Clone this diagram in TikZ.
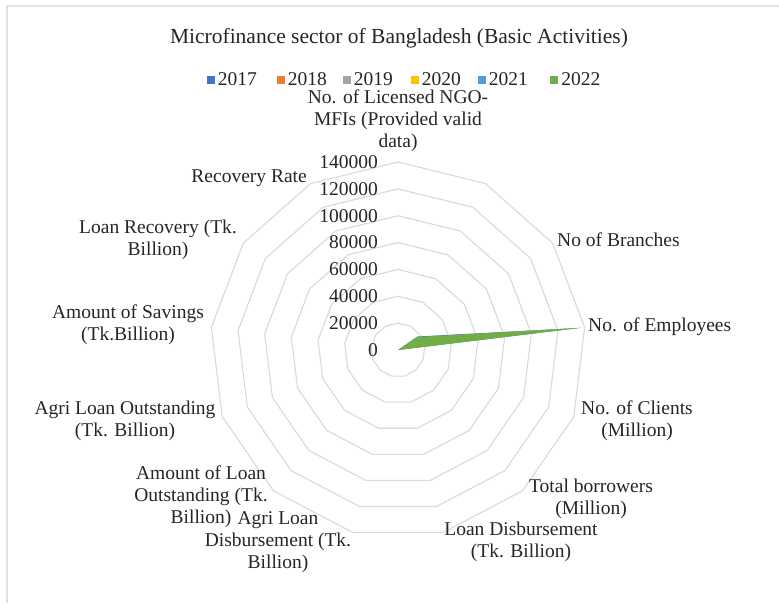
\documentclass[tikz,border=0pt]{standalone}
\usepackage{fontspec}
\setmainfont{Liberation Serif}
\definecolor{ringgray}{HTML}{D9D9D9}
\definecolor{framegray}{HTML}{E2E2E2}
\definecolor{cA}{HTML}{4472C4}
\definecolor{cB}{HTML}{ED7D31}
\definecolor{cC}{HTML}{A5A5A5}
\definecolor{cD}{HTML}{FFC000}
\definecolor{cE}{HTML}{5B9BD5}
\definecolor{cF}{HTML}{70AD47}
\newcommand{\cx}{398}
\newcommand{\cy}{350}
\newcommand{\Rmax}{188}
\begin{document}
\begin{tikzpicture}[x=1pt,y=-1pt,
  ring/.style={draw=ringgray,line width=1.1pt,line join=round},
  lbl/.style={inner sep=0pt,align=center,font=\fontsize{19.5}{22}\selectfont,text=black!85},
  tick/.style={inner sep=0pt,anchor=east,font=\fontsize{19.5}{22}\selectfont,text=black!85},
  legsq/.style={inner sep=0pt,minimum size=8pt,fill=#1},
  legtx/.style={inner sep=0pt,anchor=west,font=\fontsize{19.5}{22}\selectfont,text=black!85}]
\fill[white] (0,0) rectangle (779,603);
\useasboundingbox (0,0) rectangle (779,603);
\draw[framegray,line width=1.5pt] (7,603) -- (7,6) -- (779,6);

% title
\node[inner sep=0pt,font=\fontsize{21.5}{24}\selectfont,text=black!85] (title) at (399,38) {Microfinance sector of Bangladesh (Basic Activities)};

% legend
\foreach \c/\yr/\x in {cA/2017/210.5,cB/2018/280.5,cC/2019/346.5,cD/2020/414.5,cE/2021/481.5,cF/2022/554}{
  \node[legsq=\c] (sq\yr) at (\x,79.5) {};
  \node[legtx] (lg\yr) at ([xshift=3pt]sq\yr.east) {\yr};
}

% rings
\foreach \k in {1,...,7}{
  \pgfmathsetmacro{\R}{\k*\Rmax/7}
  \draw[ring] ({\cx},{\cy-\R}) \foreach \i in {1,...,12}{ -- ({\cx+\R*sin(\i*360/13)},{\cy-\R*cos(\i*360/13)}) } -- cycle;
}

% data
\coordinate (ctr) at (\cx,\cy);
\coordinate (b21) at ({\cx+23.8*sin(2*360/13)},{\cy-23.8*cos(2*360/13)});
\coordinate (e21) at ({\cx+183*sin(3*360/13)},{\cy-183*cos(3*360/13)});
\coordinate (b22) at ({\cx+23*sin(2*360/13)},{\cy-23*cos(2*360/13)});
\coordinate (e22) at ({\cx+185*sin(3*360/13)},{\cy-185*cos(3*360/13)});
\fill[cA] (ctr) -- (b21) -- (e21) -- cycle;
\fill[cF] (ctr) -- (b22) -- (e22) -- cycle;

% tick labels
\foreach \k/\v in {0/0,1/20000,2/40000,3/60000,4/80000,5/100000,6/120000,7/140000}{
  \node[tick] (t\k) at (378,{\cy-\k*\Rmax/7}) {\v};
}

% category labels
\node[lbl] (l0) at (398,121) {No. of Licensed NGO-\\MFIs (Provided valid\\data)};
\node[lbl,anchor=east] (l12) at (307,178) {Recovery Rate};
\node[lbl,anchor=west] (l2) at (557,240) {No of Branches};
\node[lbl] (l11) at (158,240) {Loan Recovery (Tk.\\Billion)};
\node[lbl] (l10) at (128,325) {Amount of Savings\\(Tk.Billion)};
\node[lbl,anchor=west] (l3) at (588,327) {No. of Employees};
\node[lbl] (l9) at (125,421) {Agri Loan Outstanding\\(Tk. Billion)};
\node[lbl] (l4) at (637,421) {No. of Clients\\(Million)};
\node[lbl] (l8) at (201,497) {Amount of Loan\\Outstanding (Tk.\\Billion)};
\node[lbl] (l7) at (278,542) {Agri Loan\\Disbursement (Tk.\\Billion)};
\node[lbl] (l5) at (591,499) {Total borrowers\\(Million)};
\node[lbl] (l6) at (521,542) {Loan Disbursement\\(Tk. Billion)};
\end{tikzpicture}
\end{document}
